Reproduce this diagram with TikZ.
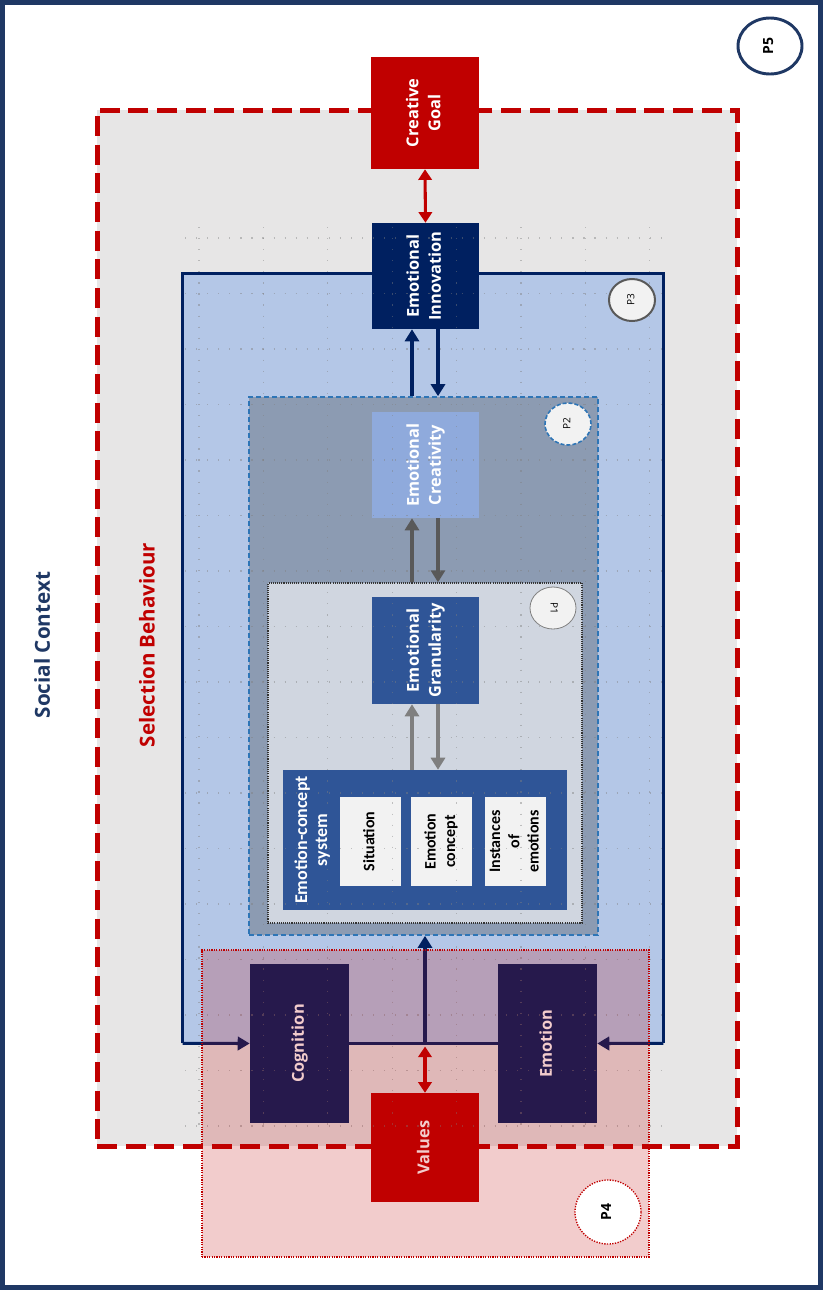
\documentclass[tikz,border=0pt]{standalone}
\usepackage{fontspec}
\setmainfont{Open Sans}
\newfontfamily\calfont{Carlito}
\usetikzlibrary{arrows.meta,calc,shapes.geometric}
\definecolor{navy}{HTML}{002060}
\definecolor{frame}{HTML}{1F3864}
\definecolor{dred}{HTML}{C00000}
\definecolor{sgray}{HTML}{E7E6E6}
\definecolor{lblue}{HTML}{B4C7E7}
\definecolor{slate}{HTML}{8C9BB2}
\definecolor{pgray}{HTML}{D0D6E0}
\definecolor{mblue}{HTML}{8FAADC}
\definecolor{dblue}{HTML}{2F5597}
\definecolor{pale}{HTML}{F2F2F2}
\definecolor{dashblue}{HTML}{2E75B6}
\definecolor{darkar}{HTML}{595959}
\definecolor{midar}{HTML}{7F7F7F}
\newcommand{\rt}[1]{\rotatebox{90}{\begin{tabular}{@{}c@{}}#1\end{tabular}}}
\newcommand{\rtm}[1]{\rotatebox{-90}{\begin{tabular}{@{}c@{}}#1\end{tabular}}}
\begin{document}
\begin{tikzpicture}[x=0.75pt,y=-0.75pt,
  box/.style={rectangle, inner sep=0pt, text=white, font=\bfseries\fontsize{12.3}{16.5}\selectfont},
  smallbox/.style={rectangle, inner sep=0pt, fill=pale, text=black, font=\calfont\bfseries\fontsize{12}{14.5}\selectfont},
  region/.style={rectangle, inner sep=0pt},
  tag/.style={ellipse, inner sep=0pt, fill=pale, font=\fontsize{7.5}{9}\selectfont},
  bigtag/.style={ellipse, inner sep=0pt, fill=white, font=\bfseries\fontsize{10.5}{12}\selectfont},
  navyar/.style={draw=navy, line width=3pt, -{Triangle[length=9pt,width=10.5pt]}},
  darkgar/.style={draw=darkar, line width=3pt, -{Triangle[length=9pt,width=10.5pt]}},
  midgar/.style={draw=midar, line width=3pt, -{Triangle[length=9pt,width=10.5pt]}},
  sidear/.style={draw=navy, line width=2.3pt, -{Triangle[length=9pt,width=10pt]}},
  redar/.style={draw=dred, line width=2.3pt, {Triangle[length=8pt,width=10pt]}-{Triangle[length=8pt,width=10pt]}},
  gridline/.style={draw=gray, line width=0.9pt, dash pattern=on 0.9pt off 7.4pt, opacity=0.45}
]
\useasboundingbox (0,0) rectangle (823,1290);
\fill[white] (0,0) rectangle (823,1290);
\draw[frame, line width=3.75pt] (2.5,2.5) rectangle (820.5,1287.5);

% Selection behaviour area
\node[region, fill=sgray, draw=dred, line width=3.75pt, dash pattern=on 15pt off 6.5pt,
      minimum width=480pt, minimum height=777pt] (SB) at (417,628) {};
\node[rotate=90, text=frame, font=\bfseries\fontsize{15.5}{17}\selectfont] (SC) at (42,645) {Social Context};
\node[rotate=90, text=dred, font=\bfseries\fontsize{15.4}{17}\selectfont] (SBt) at (147,645) {Selection Behaviour};

% P3 region
\node[region, fill=lblue, minimum width=360pt, minimum height=576.75pt] (P3) at (423,658.5) {};
\draw[navy, line width=1.9pt] (P3.south west) -- (P3.north west) -- (P3.north east) -- (P3.south east);
% P2 region
\node[region, fill=slate, draw=dashblue, line width=1.2pt, dash pattern=on 4pt off 2pt,
      minimum width=261.75pt, minimum height=403.5pt] (P2) at (423.5,666) {};
% P1 region
\node[region, fill=pgray, draw=black!80, line width=1pt, dash pattern=on 0.8pt off 0.8pt,
      minimum width=235.5pt, minimum height=255pt] (P1) at (425,753) {};

% boxes
\node[box, fill=dred, minimum width=81pt, minimum height=84pt] (CG) at (425,113) {\rt{Creative\\Goal}};
\node[box, fill=navy, minimum width=80.25pt, minimum height=79.5pt] (EI) at (425.5,276) {\rt{Emotional\\Innovation}};
\node[box, fill=mblue, minimum width=80.25pt, minimum height=79.5pt] (ECr) at (425.5,465) {\rt{Emotional\\Creativity}};
\node[box, fill=dblue, minimum width=80.25pt, minimum height=80.25pt] (EG) at (425.5,650.5) {\rt{Emotional\\Granularity}};
\node[rectangle, inner sep=0pt, fill=dblue, minimum width=213pt, minimum height=105pt] (ECS) at (425,840) {};
\node[text=white, font=\calfont\bfseries\fontsize{13.5}{15}\selectfont] (ECSt) at (313,840) {\rt{Emotion-concept\\system}};
\node[smallbox, minimum width=45.75pt, minimum height=66.75pt] (Sit) at (370.5,841.5) {\rt{Situation}};
\node[smallbox, minimum width=45.75pt, minimum height=66.75pt] (EC) at (441.5,841.5) {\rt{Emotion\\concept}};
\node[smallbox, minimum width=45.75pt, minimum height=66.75pt] (Ins) at (515.5,841.5) {\rt{Instances\\of\\emotions}};
\node[box, fill=navy, minimum width=74.25pt, minimum height=119.25pt] (Cog) at (299.5,1043.5) {\rt{Cognition}};
\node[box, fill=navy, minimum width=74.25pt, minimum height=119.25pt] (Emo) at (547.5,1043.5) {\rt{Emotion}};
\node[box, fill=dred, minimum width=81pt, minimum height=81.75pt] (Val) at (425,1147.5) {\rt{Values}};

% connectors
\draw[redar] (CG.south) -- (EI.north);
\coordinate (c1) at ($(EI.south)+(-13.5,0)$);
\coordinate (c2) at ($(EI.south)+(12.5,0)$);
\draw[navyar] (c1 |- P2.north) -- (c1);
\draw[navyar] (c2) -- (c2 |- P2.north);
\coordinate (d1) at ($(ECr.south)+(-13.5,0)$);
\coordinate (d2) at ($(ECr.south)+(12.5,0)$);
\draw[darkgar] (d1 |- P1.north) -- (d1);
\draw[darkgar] (d2) -- (d2 |- P1.north);
\coordinate (e1) at ($(EG.south)+(-13.5,0)$);
\coordinate (e2) at ($(EG.south)+(12.5,0)$);
\draw[midgar] (e1 |- ECS.north) -- (e1);
\draw[midgar] (e2) -- (e2 |- ECS.north);
\draw[sidear] (P3.south west) -- (Cog.west);
\draw[sidear] (P3.south east) -- (Emo.east);
\draw[navy, line width=2pt] (Cog.east) -- (Emo.west);
\coordinate (junc) at (Val.north |- Cog.east);
\draw[navyar] (junc) -- (junc |- P2.south);
\draw[redar] ($(junc)+(0,3)$) -- (Val.north);

% faint layout grid
\foreach \gx in {199,263.4,327.8,392.2,456.6,521,585.4,649.8}
  \draw[gridline] (\gx,227) -- (\gx,1125);
\foreach \k in {0,...,16}
  \draw[gridline] (185,238+55.5*\k) -- (665,238+55.5*\k);

% tags
\node[tag, draw=darkar, line width=1.5pt, minimum width=34.5pt, minimum height=31.5pt] (T3) at (632,300) {\rt{P3}};
\node[tag, draw=dashblue, line width=1.2pt, dash pattern=on 3pt off 1.5pt, minimum width=34.5pt, minimum height=31.5pt] (T2) at (568,424) {\rt{P2}};
\node[tag, draw=gray, line width=0.6pt, minimum width=34.5pt, minimum height=31.5pt] (T1) at (553,608) {\rtm{P1}};
\node[bigtag, draw=frame, line width=2.2pt, minimum width=48pt, minimum height=42pt] (T5) at (770,46) {\rt{P5}};

% P4 overlay
\node[region, fill=dred, fill opacity=0.2, draw=dred, line width=0.9pt, dash pattern=on 0.9pt off 0.9pt,
      minimum width=335.25pt, minimum height=230.25pt] (P4) at (425.5,1103.5) {};
\node[bigtag, draw=dred, line width=1pt, dash pattern=on 1pt off 1pt, minimum width=49.5pt, minimum height=48pt] (T4) at (608,1212) {\rt{P4}};
\end{tikzpicture}
\end{document}
